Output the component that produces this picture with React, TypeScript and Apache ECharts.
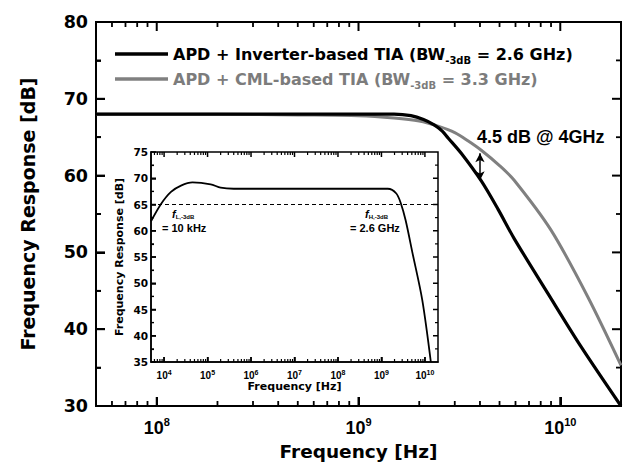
import React, { useEffect, useRef } from "react";
import * as echarts from "echarts";

// ---------- data ----------
const SERIES_INV = "APD + Inverter-based TIA (BW-3dB = 2.6 GHz)";
const SERIES_CML = "APD + CML-based TIA (BW-3dB = 3.3 GHz)";

const invFreq = [5e7, 2e8, 5e8, 1e9, 1.5e9, 1.82e9, 2.1e9, 2.37e9, 2.6e9, 2.78e9, 3.23e9, 4.06e9, 4.92e9, 5.91e9, 8.71e9, 1.27e10, 2e10];
const invDb = [68.0, 68.0, 68.0, 68.0, 68.0, 67.8, 67.3, 66.6, 65.8, 64.9, 62.9, 59.3, 55.6, 51.8, 44.6, 37.7, 30.0];

const cmlFreq = [5e7, 2e8, 5e8, 1e9, 1.5e9, 2e9, 2.5e9, 3e9, 3.5e9, 4.06e9, 5e9, 5.91e9, 9e9, 1.37e10, 2e10];
const cmlDb = [68.0, 68.0, 67.9, 67.8, 67.5, 67.1, 66.4, 65.6, 64.5, 63.3, 61.3, 59.4, 52.9, 44.2, 35.3];

const insetFreq = [5e3, 8.5e3, 1.44e4, 2.45e4, 4.5e4, 1.18e5, 2e5, 4e5, 1e7, 1e9, 1.4e9, 2.2e9, 2.8e9, 3.6e9, 5.2e9, 8.7e9, 1.37e10];
const insetDb = [61.8, 65.1, 67.4, 68.6, 69.2, 68.85, 68.2, 68.0, 68.0, 68.0, 68.0, 67.1, 65.2, 62.0, 55.7, 46.8, 35.0];

const insetThresholdDb = 65;
const arrowFreq = 4e9;
const arrowDb = [62.9, 59.4];

// tick values
const mainXMajor = [1e8, 1e9, 1e10];
const insetXMajor = [1e4, 1e5, 1e6, 1e7, 1e8, 1e9, 1e10];
const mainDecades = [1e7, 1e8, 1e9];
const insetDecades = [1e3, 1e4, 1e5, 1e6, 1e7, 1e8, 1e9];
const minorMultipliers = [2, 3, 4, 5, 6, 7, 8, 9];
const mainYMajor = [40, 50, 60, 70];
const mainYMinor = [35, 45, 55, 65, 75];
const insetYMajor = [40, 45, 50, 55, 60, 65, 70];
const insetYMinor = [37.5, 42.5, 47.5, 52.5, 57.5, 62.5, 67.5, 72.5];

const MAIN_X = [5e7, 2e10];
const MAIN_Y = [30, 80];
const INSET_X = [5e3, 2e10];
const INSET_Y = [35, 75];

const minorTicks = (decades: number[], lo: number, hi: number) =>
  decades.flatMap((d) => minorMultipliers.map((m) => m * d)).filter((v) => v > lo * 1.001 && v < hi * 0.999);

const mainXMinor = minorTicks(mainDecades, MAIN_X[0], MAIN_X[1]);
const insetXMinor = minorTicks(insetDecades, INSET_X[0], INSET_X[1]);

const DV = "DejaVu Sans";
const LS = "Liberation Sans";

export default function App() {
  const ref = useRef<HTMLDivElement>(null);
  useEffect(() => {
    if (!ref.current) return;
    const chart = echarts.init(ref.current, undefined, { renderer: "svg" });

    const expLabel = (v: number) => {
      const e = Math.log10(v);
      if (Math.abs(e - Math.round(e)) > 1e-6) return "";
      return `{b|10}{s|${Math.round(e)}}`;
    };

    // ticks drawn as thin rects (bottom+top for x, left+right for y)
    const xTickRender = (yMin: number, yMax: number, len: number, lw: number) => (params: any, api: any) => {
      const f = api.value(0);
      const b = api.coord([f, yMin]);
      const t = api.coord([f, yMax]);
      return {
        type: "group",
        children: [
          { type: "rect", shape: { x: b[0] - lw / 2, y: b[1] - len, width: lw, height: len }, style: { fill: "#000" } },
          { type: "rect", shape: { x: t[0] - lw / 2, y: t[1], width: lw, height: len }, style: { fill: "#000" } },
        ],
      };
    };
    const yTickRender = (xMin: number, xMax: number, len: number, lw: number) => (params: any, api: any) => {
      const v = api.value(1);
      const l = api.coord([xMin, v]);
      const r = api.coord([xMax, v]);
      return {
        type: "group",
        children: [
          { type: "rect", shape: { x: l[0], y: l[1] - lw / 2, width: len, height: lw }, style: { fill: "#000" } },
          { type: "rect", shape: { x: r[0] - len, y: r[1] - lw / 2, width: len, height: lw }, style: { fill: "#000" } },
        ],
      };
    };
    const tickSeries = (gi: number, kind: "x" | "y", values: number[], ext: number[], len: number, lw: number) => ({
      type: "custom", xAxisIndex: gi, yAxisIndex: gi, clip: false, silent: true, z: gi === 0 ? 4 : 8,
      renderItem: kind === "x" ? xTickRender(ext[0], ext[1], len, lw) : yTickRender(ext[0], ext[1], len, lw),
      data: kind === "x" ? values.map((v) => [v, ext[0]]) : values.map((v) => [ext[0], v]),
    });

    chart.setOption({
      animation: false,
      backgroundColor: "#fff",
      grid: [
        { left: 96, top: 22, right: 4, bottom: 65, show: true, backgroundColor: "transparent", borderColor: "#000", borderWidth: 2, outerBoundsMode: "none", containLabel: false },
        { left: 151, top: 152, width: 287, height: 210, show: true, backgroundColor: "#fff", borderColor: "#000", borderWidth: 1.5, outerBoundsMode: "none", containLabel: false, z: 5 },
      ],
      legend: {
        orient: "vertical",
        left: 110,
        top: 41,
        itemWidth: 53,
        itemHeight: 3.5,
        itemGap: 6,
        icon: "rect",
        selectedMode: false,
        data: [{ name: SERIES_INV }, { name: SERIES_CML }],
        formatter: (name: string) =>
          name === SERIES_INV
            ? "{a|APD + Inverter-based TIA (BW}{as|-3dB}{a| = 2.6 GHz)}"
            : "{g|APD + CML-based TIA (BW}{gs|-3dB}{g| = 3.3 GHz)}",
        textStyle: {
          rich: {
            a: { fontFamily: DV, fontWeight: "bold", fontSize: 16, color: "#000", lineHeight: 22 },
            as: { fontFamily: DV, fontWeight: "bold", fontSize: 10, color: "#000", lineHeight: 12, verticalAlign: "bottom" },
            g: { fontFamily: DV, fontWeight: "bold", fontSize: 16, color: "#7c7c7c", lineHeight: 22 },
            gs: { fontFamily: DV, fontWeight: "bold", fontSize: 10, color: "#7c7c7c", lineHeight: 12, verticalAlign: "bottom" },
          },
        },
      },
      xAxis: [
        {
          type: "log", gridIndex: 0, min: MAIN_X[0], max: MAIN_X[1],
          axisLine: { show: true, lineStyle: { color: "#000", width: 2 } },
          axisTick: { show: true, inside: true, length: 9, lineStyle: { color: "#000", width: 2 } },
          splitLine: { show: false },
          axisLabel: {
            show: true, margin: 10, formatter: expLabel, showMinLabel: false, showMaxLabel: false,
            rich: {
              b: { fontFamily: LS, fontWeight: "bold", fontSize: 18, color: "#000", lineHeight: 24 },
              s: { fontFamily: LS, fontWeight: "bold", fontSize: 11, color: "#000", lineHeight: 10, verticalAlign: "top" },
            },
          },
          name: "Frequency [Hz]", nameLocation: "middle", nameGap: 33,
          nameTextStyle: { fontFamily: DV, fontWeight: "bold", fontSize: 18.5, color: "#000" },
        },
        {
          type: "log", gridIndex: 1, min: INSET_X[0], max: INSET_X[1], z: 6,
          axisLine: { show: true, lineStyle: { color: "#000", width: 1.5 } },
          axisTick: { show: true, inside: true, length: 5, lineStyle: { color: "#000", width: 1.5 } },
          splitLine: { show: false },
          axisLabel: {
            show: true, margin: 7, formatter: expLabel, showMinLabel: false, showMaxLabel: false,
            rich: {
              b: { fontFamily: LS, fontWeight: "bold", fontSize: 10, color: "#000", lineHeight: 12 },
              s: { fontFamily: LS, fontWeight: "bold", fontSize: 7, color: "#000", lineHeight: 5, verticalAlign: "top" },
            },
          },
          name: "Frequency [Hz]", nameLocation: "middle", nameGap: 19,
          nameTextStyle: { fontFamily: DV, fontWeight: "bold", fontSize: 11, color: "#000" },
        },
      ],
      yAxis: [
        {
          type: "value", gridIndex: 0, min: MAIN_Y[0], max: MAIN_Y[1], interval: 10,
          axisLine: { show: true, lineStyle: { color: "#000", width: 2 } },
          axisTick: { show: true, inside: true, length: 9, lineStyle: { color: "#000", width: 2 } },
          minorTick: { show: true, splitNumber: 2, length: 5, lineStyle: { color: "#000", width: 1.8 } },
          splitLine: { show: false }, minorSplitLine: { show: false },
          axisLabel: { show: true, margin: 8, fontFamily: DV, fontWeight: "bold", fontSize: 17.5, color: "#000" },
          name: "Frequency Response [dB]", nameLocation: "middle", nameGap: 59,
          nameTextStyle: { fontFamily: DV, fontWeight: "bold", fontSize: 19, color: "#000" },
        },
        {
          type: "value", gridIndex: 1, min: INSET_Y[0], max: INSET_Y[1], interval: 5, z: 6,
          axisLine: { show: true, lineStyle: { color: "#000", width: 1.5 } },
          axisTick: { show: true, inside: true, length: 5, lineStyle: { color: "#000", width: 1.5 } },
          minorTick: { show: true, splitNumber: 2, length: 3, lineStyle: { color: "#000", width: 1.2 } },
          splitLine: { show: false }, minorSplitLine: { show: false },
          axisLabel: { show: true, margin: 3, fontFamily: DV, fontWeight: "bold", fontSize: 10.5, color: "#000" },
          name: "Frequency Response [dB]", nameLocation: "middle", nameGap: 26,
          nameTextStyle: { fontFamily: DV, fontWeight: "bold", fontSize: 11, color: "#000" },
        },
      ],
      series: [
        {
          name: SERIES_CML, type: "line", xAxisIndex: 0, yAxisIndex: 0, showSymbol: false, smooth: 0.3,
          data: cmlFreq.map((f, i) => [f, cmlDb[i]]),
          lineStyle: { color: "#808080", width: 3 }, itemStyle: { color: "#808080" }, z: 2,
        },
        {
          name: SERIES_INV, type: "line", xAxisIndex: 0, yAxisIndex: 0, showSymbol: false, smooth: 0.3,
          data: invFreq.map((f, i) => [f, invDb[i]]),
          lineStyle: { color: "#000", width: 3.2 }, itemStyle: { color: "#000" }, z: 3,
          markLine: {
            silent: true, symbol: ["arrow", "arrow"], symbolSize: [7, 9],
            lineStyle: { color: "#000", width: 1.5, type: "solid" }, label: { show: false },
            data: [[{ coord: [arrowFreq, arrowDb[0]] }, { coord: [arrowFreq, arrowDb[1]] }]],
          },
        },
        tickSeries(0, "x", mainXMajor, MAIN_Y, 9, 2),
        tickSeries(0, "x", mainXMinor, MAIN_Y, 5, 1.8),
        tickSeries(0, "y", mainYMajor, MAIN_X, 9, 2),
        tickSeries(0, "y", mainYMinor, MAIN_X, 5, 1.8),
        {
          name: "inset", type: "line", xAxisIndex: 1, yAxisIndex: 1, showSymbol: false, smooth: 0.3,
          data: insetFreq.map((f, i) => [f, insetDb[i]]),
          lineStyle: { color: "#000", width: 1.8 }, z: 7,
          markLine: {
            silent: true, symbol: ["none", "none"], label: { show: false },
            lineStyle: { color: "#000", width: 1.2, type: [4, 3] },
            data: [{ yAxis: insetThresholdDb }],
          },
        },
        tickSeries(1, "x", insetXMajor, INSET_Y, 5, 1.5),
        tickSeries(1, "x", insetXMinor, INSET_Y, 3, 1.2),
        tickSeries(1, "y", insetYMajor, INSET_X, 5, 1.5),
        tickSeries(1, "y", insetYMinor, INSET_X, 3, 1.2),
      ],
      graphic: [
        {
          type: "text", left: 477, top: 128, z: 10,
          style: { text: "4.5 dB @ 4GHz", fontFamily: LS, fontWeight: "bold", fontSize: 18, fill: "#000" },
        },
        {
          type: "text", left: 172, top: 208, z: 10,
          style: {
            text: "{f|f}{s|L,-3dB}", fill: "#000",
            rich: {
              f: { fontFamily: LS, fontStyle: "italic", fontWeight: "bold", fontSize: 11, lineHeight: 13 },
              s: { fontFamily: LS, fontWeight: "bold", fontSize: 6, lineHeight: 6, verticalAlign: "bottom" },
            },
          },
        },
        {
          type: "text", left: 162, top: 222, z: 10,
          style: { text: "= 10 kHz", fontFamily: LS, fontWeight: "bold", fontSize: 11, fill: "#000" },
        },
        {
          type: "text", left: 365, top: 208, z: 10,
          style: {
            text: "{f|f}{s|H,-3dB}", fill: "#000",
            rich: {
              f: { fontFamily: LS, fontStyle: "italic", fontWeight: "bold", fontSize: 11, lineHeight: 13 },
              s: { fontFamily: LS, fontWeight: "bold", fontSize: 6, lineHeight: 6, verticalAlign: "bottom" },
            },
          },
        },
        {
          type: "text", left: 350, top: 222, z: 10,
          style: { text: "= 2.6 GHz", fontFamily: LS, fontWeight: "bold", fontSize: 11, fill: "#000" },
        },
      ],
    });

    return () => chart.dispose();
  }, []);

  return <div ref={ref} style={{ position: "fixed", left: 0, top: 0, width: 625, height: 471 }} />;
}
